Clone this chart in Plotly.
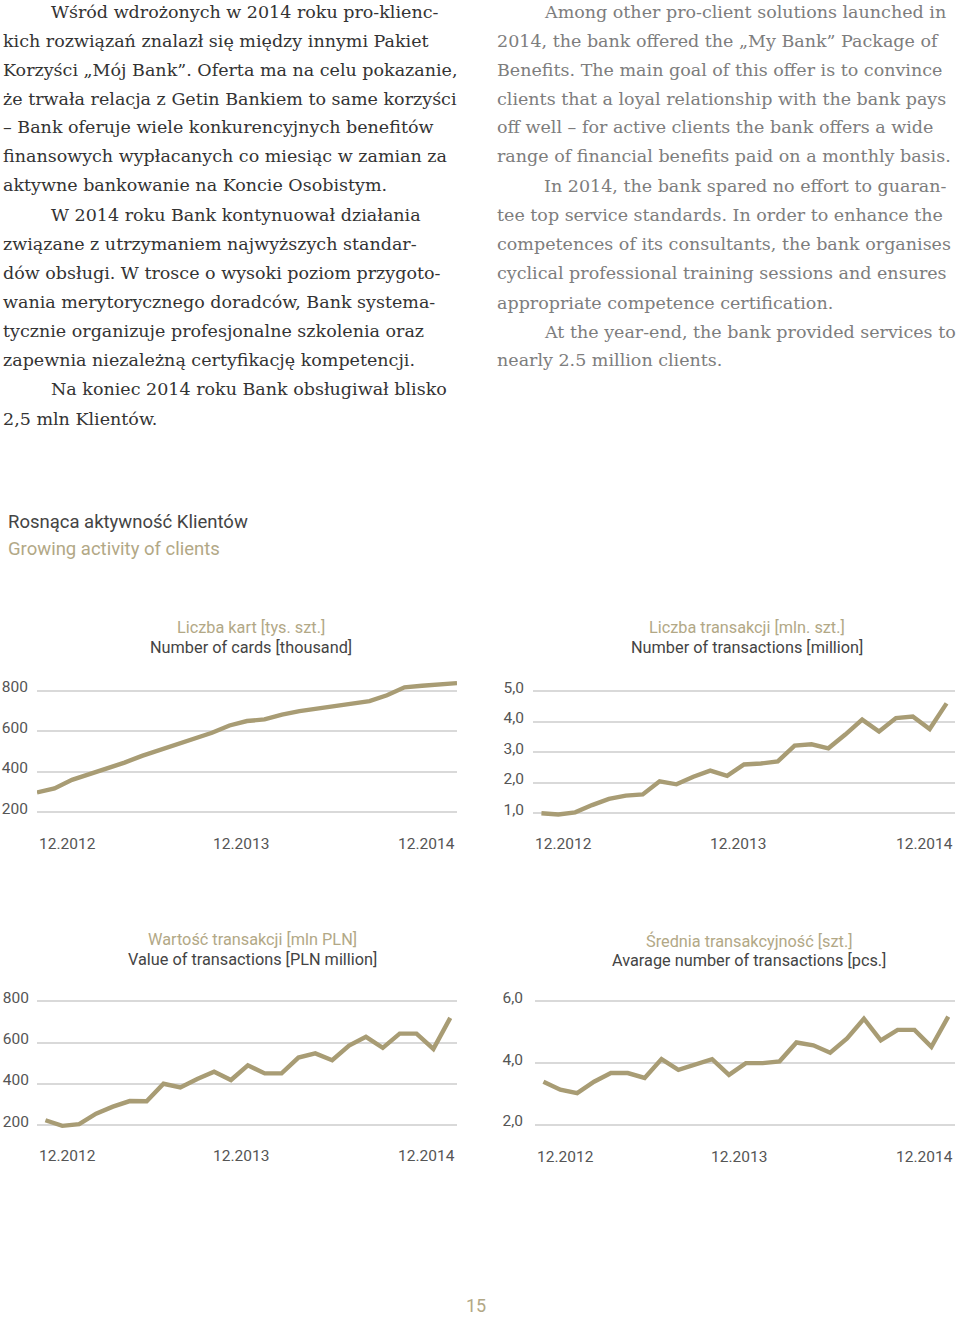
import plotly.graph_objects as go

W, H = 960, 1317

# ---------------- data ----------------
months = list(range(25))  # 12.2012 ... 12.2014 (monthly)
x_labels = ["12.2012", "12.2013", "12.2014"]

cards = [298, 318, 360, 388, 416, 445, 478, 507, 535, 563, 592, 628, 650,
         658, 682, 699, 712, 727, 740, 748, 777, 816, 824, 832, 837]
transactions = [1.00, 0.96, 1.03, 1.27, 1.47, 1.58, 1.62, 2.05, 1.95, 2.20,
                2.40, 2.23, 2.60, 2.63, 2.70, 3.22, 3.26, 3.13, 3.58, 4.07,
                3.68, 4.12, 4.17, 3.76, 4.60]
value = [224, 197, 205, 256, 290, 317, 316, 401, 383, 424, 459, 419, 490,
         451, 451, 528, 548, 515, 586, 628, 575, 644, 644, 570, 720]
avg_trans = [3.40, 3.14, 3.03, 3.40, 3.68, 3.68, 3.52, 4.13, 3.78, 3.94,
             4.13, 3.62, 4.00, 4.00, 4.06, 4.67, 4.58, 4.34, 4.80, 5.44,
             4.74, 5.08, 5.08, 4.53, 5.51]

cards_ticks = [200, 400, 600, 800]
trans_ticks = [1, 2, 3, 4, 5]
value_ticks = [200, 400, 600, 800]
avg_ticks = [2, 4, 6]

titles_pl = ["Liczba kart [tys. szt.]", "Liczba transakcji [mln. szt.]",
             "Wartość transakcji [mln PLN]", "Średnia transakcyjność [szt.]"]
titles_en = ["Number of cards [thousand]", "Number of transactions [million]",
             "Value of transactions [PLN million]", "Avarage number of transactions [pcs.]"]

left_lines = [
    ("Wśród wdrożonych w 2014 roku pro-klienc-", True),
    ("kich rozwiązań znalazł się między innymi Pakiet", False),
    ("Korzyści „Mój Bank”. Oferta ma na celu pokazanie,", False),
    ("że trwała relacja z Getin Bankiem to same korzyści", False),
    ("– Bank oferuje wiele konkurencyjnych benefitów", False),
    ("finansowych wypłacanych co miesiąc w zamian za", False),
    ("aktywne bankowanie na Koncie Osobistym.", False),
    ("W 2014 roku Bank kontynuował działania", True),
    ("związane z utrzymaniem najwyższych standar-", False),
    ("dów obsługi. W trosce o wysoki poziom przygoto-", False),
    ("wania merytorycznego doradców, Bank systema-", False),
    ("tycznie organizuje profesjonalne szkolenia oraz", False),
    ("zapewnia niezależną certyfikację kompetencji.", False),
    ("Na koniec 2014 roku Bank obsługiwał blisko", True),
    ("2,5 mln Klientów.", False),
]
right_lines = [
    ("Among other pro-client solutions launched in", True),
    ("2014, the bank offered the „My Bank” Package of", False),
    ("Benefits. The main goal of this offer is to convince", False),
    ("clients that a loyal relationship with the bank pays", False),
    ("off well – for active clients the bank offers a wide", False),
    ("range of financial benefits paid on a monthly basis.", False),
    ("In 2014, the bank spared no effort to guaran-", True),
    ("tee top service standards. In order to enhance the", False),
    ("competences of its consultants, the bank organises", False),
    ("cyclical professional training sessions and ensures", False),
    ("appropriate competence certification.", False),
    ("At the year-end, the bank provided services to", True),
    ("nearly 2.5 million clients.", False),
]

# ---------------- style ----------------
LINE = "#a89c74"
TAN = "#b2a886"
DARK = "#444444"
GREY_TXT = "#7d7d7d"
GRID = "#d9d9d9"
SANS = "Roboto, 'Open Sans', sans-serif"
SERIF = "'DejaVu Serif', 'Liberation Serif', serif"
BODY_SIZE = 17.5


def px(xp):
    return xp / W


def py(yp):
    return 1 - yp / H


fig = go.Figure()

charts = [
    # data, ticks, fmt, x px domain, x range, y range, y px (bottom, top), label standoff
    (cards, cards_ticks, "d", (37, 457), [0, 24], [150, 880], (820.2, 671.4), 8),
    (transactions, trans_ticks, ".1f", (533, 955), [-0.5, 24.5], [0.7, 5.2], (820.2, 682.2), 8),
    (value, value_ticks, "d", (37, 457), [-0.5, 24.4], [150, 850], (1134.7, 989.6), 7),
    (avg_trans, avg_ticks, ".1f", (535, 955), [-0.5, 24.4], [1.8, 6.2], (1130.2, 993.8), 11),
]

for i, (vals, ticks, fmt, xd, xr, yr, ypx, standoff) in enumerate(charts, start=1):
    sfx = "" if i == 1 else str(i)
    fig.add_trace(go.Scatter(
        x=months, y=vals, mode="lines",
        line=dict(color=LINE, width=4.4),
        xaxis=f"x{sfx}", yaxis=f"y{sfx}", showlegend=False, hoverinfo="skip"))
    fig.layout[f"xaxis{sfx}"] = dict(domain=[px(xd[0]), px(xd[1])], range=xr,
                                     showgrid=False, zeroline=False, showline=False,
                                     showticklabels=False, anchor=f"y{sfx}", fixedrange=True)
    fig.layout[f"yaxis{sfx}"] = dict(domain=[py(ypx[0]), py(ypx[1])], range=yr,
                                     tickvals=ticks, tickformat=fmt,
                                     showgrid=True, gridcolor=GRID, gridwidth=2,
                                     zeroline=False, showline=False, ticks="",
                                     ticklabelstandoff=standoff, ticklabelshift=-4,
                                     tickfont=dict(family=SANS, size=15.5, color="#555555"),
                                     anchor=f"x{sfx}", fixedrange=True)

annotations = []

# x-axis labels (first / middle / last month)
for i, ypos in zip(range(1, 5), [842, 842, 1155, 1156]):
    sfx = "" if i == 1 else str(i)
    for lab, xd, anc in zip(x_labels, [0, 0.485, 1], ["left", "center", "right"]):
        annotations.append(dict(
            text=lab, x=xd, xref=f"x{sfx} domain", y=py(ypos), yref="paper",
            xanchor=anc, yanchor="middle", showarrow=False,
            font=dict(family=SANS, size=15.5, color="#555555")))

# chart titles
title_pos = [(251, 624, 644), (747, 624, 644), (252, 938, 958), (749, 939, 959)]
for (cx, y1, y2), tpl, ten in zip(title_pos, titles_pl, titles_en):
    annotations.append(dict(text=tpl, x=px(cx), y=py(y1), xref="paper", yref="paper",
                            xanchor="center", yanchor="middle", showarrow=False,
                            font=dict(family=SANS, size=16.3, color=TAN)))
    annotations.append(dict(text=ten, x=px(cx), y=py(y2), xref="paper", yref="paper",
                            xanchor="center", yanchor="middle", showarrow=False,
                            font=dict(family=SANS, size=16.3, color=DARK)))

# section heading
annotations.append(dict(text="Rosnąca aktywność Klientów", x=px(6), y=py(518),
                        xref="paper", yref="paper", xanchor="left", yanchor="middle",
                        showarrow=False, font=dict(family=SANS, size=18.5, color=DARK)))
annotations.append(dict(text="Growing activity of clients", x=px(6), y=py(545),
                        xref="paper", yref="paper", xanchor="left", yanchor="middle",
                        showarrow=False, font=dict(family=SANS, size=18.5, color=TAN)))

# body text
left_y = [6, 35, 64, 93, 122, 151, 180, 210, 239, 268, 297, 326, 356, 385, 415]
for (txt, indent), yy in zip(left_lines, left_y):
    annotations.append(dict(text=txt, x=px(49 if indent else 1), y=py(yy),
                            xref="paper", yref="paper", xanchor="left", yanchor="middle",
                            showarrow=False, font=dict(family=SERIF, size=BODY_SIZE, color="#333333")))
right_y = [6, 35, 64, 93, 122, 151, 181, 210, 239, 268, 298, 327, 356]
for (txt, indent), yy in zip(right_lines, right_y):
    annotations.append(dict(text=txt, x=px(542 if indent else 495), y=py(yy),
                            xref="paper", yref="paper", xanchor="left", yanchor="middle",
                            showarrow=False, font=dict(family=SERIF, size=BODY_SIZE, color=GREY_TXT)))

# page number (kept inside the figure's bottom edge)
annotations.append(dict(text="15", x=px(476), y=0, xref="paper", yref="paper",
                        xanchor="center", yanchor="bottom", showarrow=False, borderpad=0,
                        font=dict(family=SANS, size=18, color=TAN)))

fig.update_layout(
    width=W, height=H, autosize=False,
    margin=dict(l=0, r=0, t=0, b=0),
    paper_bgcolor="white", plot_bgcolor="white",
    separators=", ",
    annotations=annotations,
    showlegend=False,
)

fig.write_html("out.html", config={"displayModeBar": False},
               post_script="document.body.style.margin='0';document.body.style.overflow='hidden';")
